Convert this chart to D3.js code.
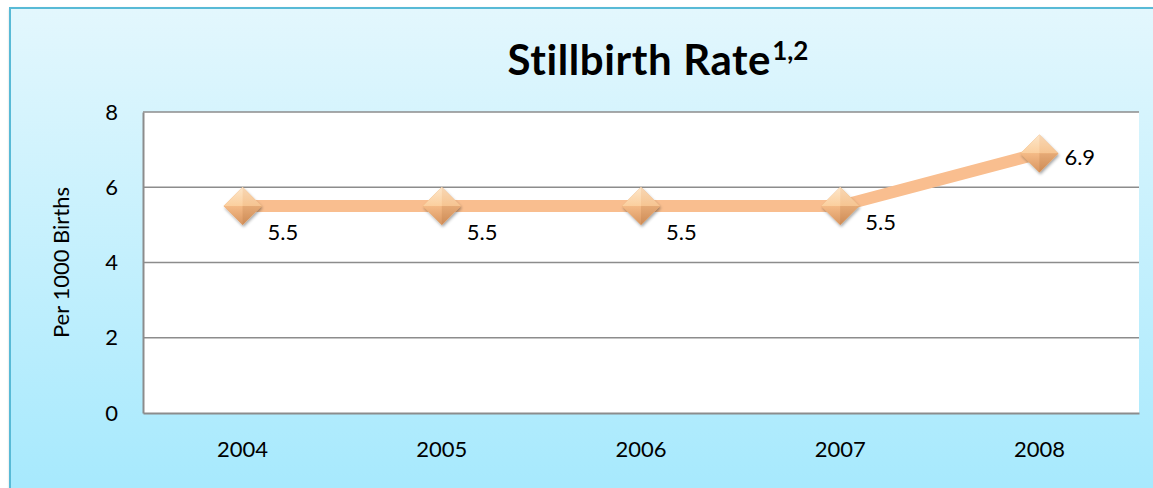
<!DOCTYPE html>
<html><head><meta charset="utf-8">
<script src="https://cdn.jsdelivr.net/npm/d3@7"></script>
<style>html,body{margin:0;padding:0;background:#fff;}svg{display:block;font-family:Lato,"Open Sans",sans-serif;}</style>
</head><body>
<svg id="chart" width="1153" height="488"></svg>
<script>
const categories = ["2004","2005","2006","2007","2008"];
const values = [5.5, 5.5, 5.5, 5.5, 6.9];
const yTicks = [0, 2, 4, 6, 8];
const title = "Stillbirth Rate";
const titleSup = "1,2";
const yLabel = "Per 1000 Births";

const svg = d3.select("#chart");
const W = 1153, H = 488;
const defs = svg.append("defs");
const bg = defs.append("linearGradient").attr("id","bg").attr("x1",0).attr("y1",0).attr("x2",0).attr("y2",1);
bg.append("stop").attr("offset","0%").attr("stop-color","#e3f7fd");
bg.append("stop").attr("offset","100%").attr("stop-color","#a6e9fd");
const sh = defs.append("filter").attr("id","sh").attr("x","-30%").attr("y","-30%").attr("width","160%").attr("height","160%");
sh.append("feDropShadow").attr("dx",1).attr("dy",2).attr("stdDeviation",1.5).attr("flood-color","#000").attr("flood-opacity",0.35);
const gTop = defs.append("linearGradient").attr("id","gTop").attr("x1",0).attr("y1",0).attr("x2",0).attr("y2",1);
gTop.append("stop").attr("offset","0%").attr("stop-color","#fde6c9");
gTop.append("stop").attr("offset","100%").attr("stop-color","#fbcf9e");
const gBot = defs.append("linearGradient").attr("id","gBot").attr("x1",0).attr("y1",0).attr("x2",0).attr("y2",1);
gBot.append("stop").attr("offset","0%").attr("stop-color","#f4ba86");
gBot.append("stop").attr("offset","100%").attr("stop-color","#d79560");

// outer frame
svg.append("rect").attr("x",10).attr("y",8).attr("width",W).attr("height",H)
  .attr("fill","url(#bg)").attr("stroke","#59bad6").attr("stroke-width",2)
  .attr("filter","url(#sh)");

const m = {left:143, right:1139, top:112, bottom:413};
const x = d3.scaleBand().domain(categories).range([m.left, m.right]);
const y = d3.scaleLinear().domain([0,8]).range([m.bottom, m.top]);

svg.append("rect").attr("x",m.left).attr("y",m.top).attr("width",m.right-m.left).attr("height",m.bottom-m.top).attr("fill","#fff");

// gridlines
svg.append("g").selectAll("line").data(yTicks.filter(d=>d>0)).join("line")
  .attr("x1",m.left).attr("x2",m.right).attr("y1",d=>y(d)).attr("y2",d=>y(d))
  .attr("stroke","#8c8c8c").attr("stroke-width",1.5);

// axes
const yAxis = svg.append("g").attr("transform",`translate(${m.left},0)`)
  .call(d3.axisLeft(y).tickValues(yTicks).tickSize(0).tickPadding(25));
yAxis.select(".domain").attr("stroke","#8c8c8c").attr("stroke-width",2);
yAxis.selectAll("text").attr("font-size",22).attr("fill","#000").attr("font-family","Lato,sans-serif");

const xAxis = svg.append("g").attr("transform",`translate(0,${m.bottom})`)
  .call(d3.axisBottom(x).tickSize(0).tickPadding(28));
xAxis.select(".domain").attr("stroke","#8c8c8c").attr("stroke-width",2);
xAxis.selectAll("text").attr("font-size",22).attr("fill","#000").attr("font-family","Lato,sans-serif");

// line
const cx = c => x(c) + x.bandwidth()/2;
const line = d3.line().x((d,i)=>cx(categories[i])).y(d=>y(d));
svg.append("path").datum(values).attr("d",line).attr("fill","none")
  .attr("stroke","#f9be8f").attr("stroke-width",12).attr("stroke-linejoin","round");

// markers (bevelled diamonds)
const r = 19;
const facets = [
  {d:`M0,0L${-r},0L0,${-r}L${r},0Z`, c:"url(#gTop)"},
  {d:`M0,0L${-r},0L0,${r}L${r},0Z`, c:"url(#gBot)"},
  {d:`M0,0L0,${-r}L${r},0Z`, c:"rgba(230,150,90,0.18)"},
  {d:`M0,0L0,${r}L${r},0Z`, c:"rgba(150,80,30,0.15)"}
];
const mk = svg.append("g").selectAll("g").data(values).join("g")
  .attr("transform",(d,i)=>`translate(${cx(categories[i])},${y(d)})`);
mk.append("path").attr("d",`M0,${-r}L${r},0L0,${r}L${-r},0Z`).attr("fill","#e8aa72").attr("filter","url(#sh)");
mk.selectAll("path.f").data(facets).join("path").attr("class","f").attr("d",f=>f.d).attr("fill",f=>f.c);

// data labels
const labelDy = [34, 34, 34, 24, 12];
svg.append("g").selectAll("text").data(values).join("text")
  .attr("x",(d,i)=>cx(categories[i]) + 25)
  .attr("y",(d,i)=>y(d) + labelDy[i])
  .attr("font-size",22).attr("fill","#000")
  .text(d=>d3.format(".1f")(d));

// title
const t = svg.append("text").attr("x",658).attr("y",75).attr("text-anchor","middle")
  .attr("font-size",42).attr("font-weight","bold").attr("fill","#000");
t.append("tspan").attr("letter-spacing",0.6).text(title);
t.append("tspan").attr("font-size",26).attr("dy",-15).attr("dx",1).text(titleSup);

// y label
svg.append("text").attr("transform",`translate(69,${(m.top+m.bottom)/2}) rotate(-90)`)
  .attr("text-anchor","middle").attr("font-size",22).attr("fill","#000").text(yLabel);
</script>
</body></html>
